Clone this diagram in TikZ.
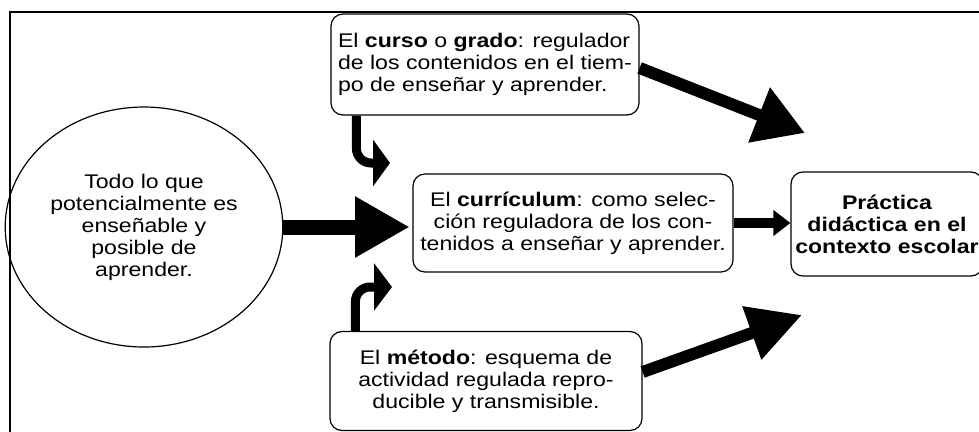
\documentclass[tikz,border=0pt]{standalone}
\usepackage{fontspec}
\setmainfont{Liberation Sans}[FakeStretch=1.17]
\usetikzlibrary{arrows.meta,shapes.geometric}
\tikzset{
  txt/.style={font=\fontsize{14.8pt}{16.5pt}\selectfont},
  caja/.style={txt, draw, line width=0.9pt, rounded corners=9pt, inner sep=0pt},
}

\begin{document}
\begin{tikzpicture}[x=0.75pt, y=-0.75pt]
\useasboundingbox (0,0) rectangle (979,432);
\clip (0,0) rectangle (979,432);

\draw[line width=1.2pt] (10,445) -- (10,12) -- (995,12);

\node[txt, ellipse, draw, line width=0.9pt, minimum width=194pt, minimum height=180pt, align=center] (todo) at (144,227) {Todo lo que\\potencialmente es\\enseñable y\\posible de\\aprender.};

\node[caja, minimum width=231pt, minimum height=75.75pt, align=left] (curso) at (485,64.5) {El \textbf{curso} o \textbf{grado}: regulador\\de los contenidos en el tiem-\\po de enseñar y aprender.};

\node[caja, minimum width=240pt, minimum height=73.5pt, align=center] (curric) at (573,223) {El \textbf{currículum}: como selec-\\ción reguladora de los con-\\tenidos a enseñar y aprender.};

\node[caja, minimum width=144pt, minimum height=78pt, align=center, font=\fontsize{14.8pt}{16.5pt}\selectfont\bfseries] (practica) at (887,224) {Práctica\\didáctica en el\\contexto escolar};

\node[caja, minimum width=234pt, minimum height=74.25pt, align=center] (metodo) at (486,381) {El \textbf{método}: esquema de\\actividad regulada repro-\\ducible y transmisible.};

\coordinate (tipA) at (805,133);
\coordinate (tipB) at (390,163);
\coordinate (tipC) at (392,287);
\coordinate (tipD) at (802,315);

\draw[line width=11.25pt, -{Triangle[length=41pt,width=43pt]}] (todo.east) -- ([xshift=-2pt]todo.east -| curric.west);

\draw[line width=7.5pt, -{Triangle[length=12.75pt,width=18.75pt]}] (curric.east) -- (curric.east -| practica.west);

\draw[line width=9pt, -{Triangle[length=37pt,width=42pt]}] ([yshift=-2.6pt]curso.east) -- (tipA);

\draw[line width=9pt, -{Triangle[length=40pt,width=40pt]}] ([yshift=6.75pt]metodo.east) -- (tipD);

\draw[line width=6.75pt, rounded corners=11pt, -{Triangle[length=12.75pt,width=34.5pt]}] ([xshift=19.5pt]curso.south west) |- (tipB);

\draw[line width=6.75pt, rounded corners=11pt, -{Triangle[length=13.5pt,width=35pt]}] ([xshift=19.5pt]metodo.north west) |- (tipC);

\end{tikzpicture}
\end{document}
